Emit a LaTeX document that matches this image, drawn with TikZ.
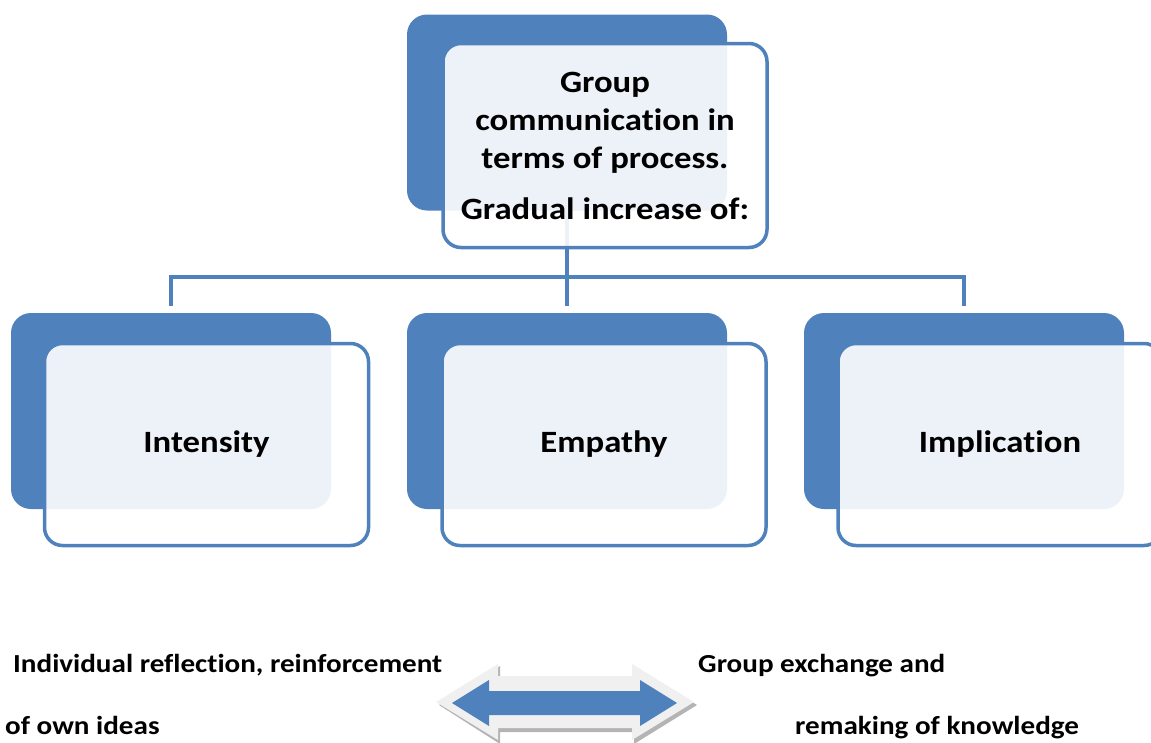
\documentclass[tikz,border=0pt]{standalone}
\usepackage{fontspec}
\setmainfont{Carlito}[FakeStretch=1.12, Ligatures=NoCommon]
\usetikzlibrary{calc}
\definecolor{accent}{HTML}{4F81BD}
\definecolor{rim}{HTML}{F0F0F0}
\definecolor{rimshade}{HTML}{B4B4B4}
\tikzset{
  backbox/.style={rectangle, rounded corners=20pt, fill=accent, draw=none,
    minimum width=320pt, minimum height=196pt, inner sep=0pt},
  frontbox/.style={rectangle, rounded corners=18pt, draw=accent, line width=3.5pt,
    fill=white, fill opacity=0.9, text opacity=1,
    minimum width=324pt, minimum height=202pt, inner sep=0pt,
    font=\fontsize{31}{38}\selectfont\bfseries, align=center},
  conn/.style={draw=accent, line width=3.5pt},
  sidetext/.style={anchor=base west, inner sep=0pt,
    font=\fontsize{26}{30}\selectfont\bfseries}
}
\begin{document}
\begin{tikzpicture}[x=1pt,y=-1pt]
\useasboundingbox (0,0) rectangle (1151,742);

% back panels
\node[backbox] (topback) at (567,112.5) {};
\node[backbox] (lback) at (171,411) {};
\node[backbox] (mback) at (567,411) {};
\node[backbox] (rback) at (964,411) {};

% tree connectors
\coordinate (bus) at (567,277);
\draw[conn] (topback.south) -- (bus);
\draw[conn, shorten >=7pt] (bus) -| (lback.north);
\draw[conn, shorten >=7pt] (bus) -| (rback.north);
\draw[conn, shorten >=7pt] (bus) -- (mback.north);

% front panels with labels
\node[frontbox, minimum height=204pt] (top) at (605,145.5)
  {Group\\communication in\\terms of process.\\[13pt]Gradual increase of:};
\node[frontbox] (left) at (206.5,444.5) {Intensity};
\node[frontbox] (mid) at (604,444.5) {Empathy};
\node[frontbox] (right) at (1000,444.5) {Implication};

% captions on either side of the arrow
\node[sidetext] (l1) at (13,672) {Individual reflection, reinforcement};
\node[sidetext] (l2) at (5,734) {of own ideas};
\node[sidetext] (r1) at (698,672) {Group exchange and};
\node[sidetext] (r2) at (795,734) {remaking of knowledge};

% double-headed arrow with bevelled rim
\fill[rimshade] (439,705) -- (500,666) -- (500,678) -- (634,678) -- (634,666)
  -- (697,705) -- (634,744) -- (634,732) -- (500,732) -- (500,744) -- cycle;
\fill[rim] (436,702) -- (498,664) -- (498,676) -- (632,676) -- (632,664)
  -- (694,702) -- (632,740) -- (632,728) -- (498,728) -- (498,740) -- cycle;
\fill[accent] (452,703) -- (489,680) -- (489,691) -- (640,691) -- (640,680)
  -- (677,703) -- (640,726) -- (640,715) -- (489,715) -- (489,726) -- cycle;
\end{tikzpicture}
\end{document}
